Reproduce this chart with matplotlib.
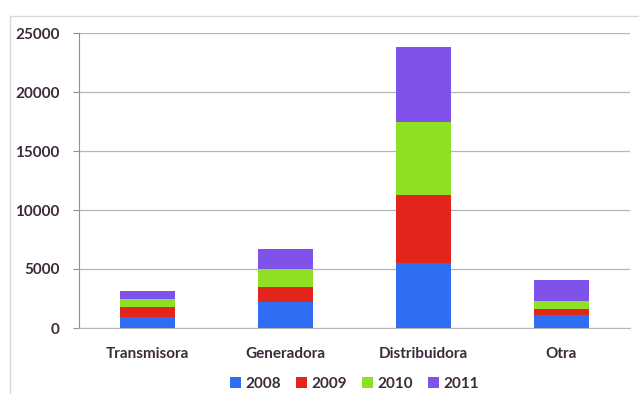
import numpy as np
import matplotlib
matplotlib.use("Agg")
import matplotlib.pyplot as plt
from matplotlib.patches import Rectangle

categories = ["Transmisora", "Generadora", "Distribuidora", "Otra"]
years = ["2008", "2009", "2010", "2011"]
v2008 = [900, 2200, 5500, 1100]
v2009 = [850, 1250, 5800, 500]
v2010 = [700, 1550, 6200, 700]
v2011 = [700, 1700, 6300, 1800]
colors = ["#2f6df2", "#e2261c", "#8fe025", "#7f52ea"]

text_color = "#3b2b3b"
plt.rcParams['font.family'] = ['Lato', 'DejaVu Sans']

fig = plt.figure(figsize=(6.39, 3.94), dpi=100)
# light frame of the chart area
fig.patches.append(Rectangle((0.016, -0.02), 1.0, 0.98, transform=fig.transFigure,
                             fill=False, edgecolor="#d8d8d8", linewidth=1.0))
ax = fig.add_axes([79 / 639, 1 - 328 / 394, 551 / 639, 295 / 394])

x = np.arange(len(categories))
bottom = np.zeros(len(categories))
for year, vals, c in zip(years, [v2008, v2009, v2010, v2011], colors):
    ax.bar(x, vals, width=0.4, bottom=bottom, color=c, label=year, zorder=3)
    bottom += np.array(vals)

ax.set_xlim(-0.5, len(categories) - 0.5)
ax.set_ylim(0, 25000)
ax.set_yticks(range(0, 25001, 5000))
ax.yaxis.grid(True, color="#b8b4b8", linewidth=0.9, zorder=0)
ax.set_xticks(x)
ax.set_xticklabels(categories)
ax.tick_params(axis="y", length=4, color="#9a8a9a", labelsize=11, labelcolor=text_color, pad=10)
ax.tick_params(axis="x", length=0, labelsize=11, labelcolor=text_color, pad=14)
for lab in ax.get_yticklabels() + ax.get_xticklabels():
    lab.set_fontweight("bold")

for s in ["top", "right"]:
    ax.spines[s].set_visible(False)
ax.spines["left"].set_color("#9a8a9a")
ax.spines["bottom"].set_color("#b8b4b8")

leg = ax.legend(loc="upper center", bbox_to_anchor=(0.5, -0.13), ncol=4, frameon=False,
                handlelength=0.7, handleheight=0.7, handletextpad=0.3, columnspacing=1.0,
                fontsize=11, borderpad=0.2)
for t in leg.get_texts():
    t.set_color(text_color)
    t.set_fontweight("bold")

fig.savefig("out.png", dpi=100)
